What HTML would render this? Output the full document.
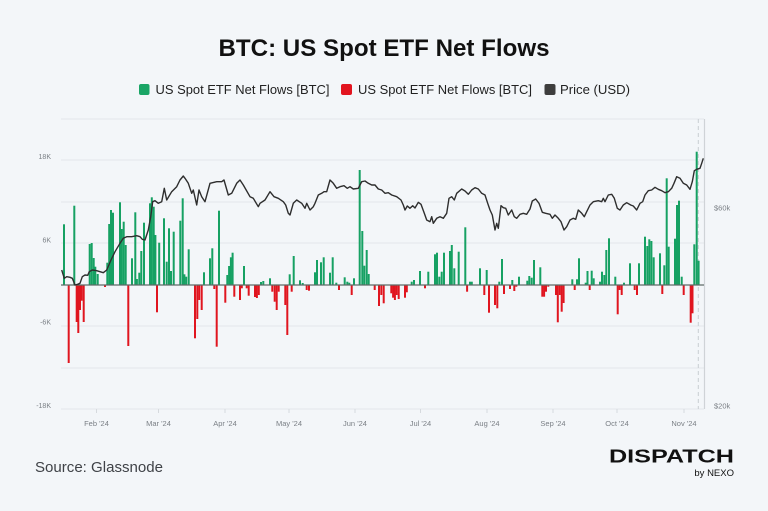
<!DOCTYPE html>
<html><head><meta charset="utf-8"><style>
html,body{margin:0;padding:0;background:#f3f6f9;}
svg{display:block;}
text{font-family:"Liberation Sans",Arial,sans-serif;}
</style></head><body>
<svg width="768" height="511" viewBox="0 0 768 511" xmlns="http://www.w3.org/2000/svg">
<rect width="768" height="511" fill="#f3f6f9"/>
<text x="384" y="56" text-anchor="middle" font-size="24" font-weight="bold" fill="#111" textLength="331" lengthAdjust="spacingAndGlyphs">BTC: US Spot ETF Net Flows</text>
<!-- legend -->
<rect x="139" y="84" width="10.5" height="11" rx="2" fill="#1aa566"/>
<text x="155.5" y="94" font-size="13" fill="#222" textLength="174" lengthAdjust="spacingAndGlyphs">US Spot ETF Net Flows [BTC]</text>
<rect x="341" y="84" width="11" height="11" rx="2" fill="#e2141f"/>
<text x="358" y="94" font-size="13" fill="#222" textLength="174" lengthAdjust="spacingAndGlyphs">US Spot ETF Net Flows [BTC]</text>
<rect x="544.5" y="84" width="11" height="11" rx="2" fill="#3d3d3d"/>
<text x="560" y="94" font-size="13" fill="#222" textLength="70" lengthAdjust="spacingAndGlyphs">Price (USD)</text>
<!-- grid -->
<g stroke="#e3e7eb" stroke-width="1">
<line x1="61" y1="119" x2="704" y2="119"/>
<line x1="61" y1="160" x2="704" y2="160"/>
<line x1="61" y1="202" x2="704" y2="202"/>
<line x1="61" y1="243" x2="704" y2="243"/>
<line x1="61" y1="326" x2="704" y2="326"/>
<line x1="61" y1="368" x2="704" y2="368"/>
<line x1="61" y1="409" x2="704" y2="409"/>
</g>
<g stroke="#d6dade" stroke-width="1">
<line x1="96.5" y1="409" x2="96.5" y2="413"/><line x1="158.5" y1="409" x2="158.5" y2="413"/>
<line x1="225" y1="409" x2="225" y2="413"/><line x1="289" y1="409" x2="289" y2="413"/>
<line x1="355" y1="409" x2="355" y2="413"/><line x1="420.5" y1="409" x2="420.5" y2="413"/>
<line x1="487" y1="409" x2="487" y2="413"/><line x1="553" y1="409" x2="553" y2="413"/>
<line x1="617" y1="409" x2="617" y2="413"/><line x1="684" y1="409" x2="684" y2="413"/>
</g>
<line x1="698.3" y1="119" x2="698.3" y2="409" stroke="#c9ced3" stroke-width="1" stroke-dasharray="4,3"/>
<line x1="704.5" y1="119" x2="704.5" y2="409" stroke="#cfd3d7" stroke-width="1.2"/>
<!-- y labels -->
<g font-size="7" fill="#7a7f85" text-anchor="end">
<text x="51" y="159">18K</text>
<text x="51" y="242.5">6K</text>
<text x="51" y="324.5">-6K</text>
<text x="51" y="408">-18K</text>
</g>
<g font-size="7.5" fill="#7a7f85">
<text x="714" y="210.5">$60k</text>
<text x="714" y="408.5">$20k</text>
</g>
<g font-size="7.5" fill="#7a7f85" text-anchor="middle">
<text x="96.5" y="426">Feb '24</text><text x="158.5" y="426">Mar '24</text>
<text x="225" y="426">Apr '24</text><text x="289" y="426">May '24</text>
<text x="355" y="426">Jun '24</text><text x="420.5" y="426">Jul '24</text>
<text x="487" y="426">Aug '24</text><text x="553" y="426">Sep '24</text>
<text x="617" y="426">Oct '24</text><text x="684" y="426">Nov '24</text>
</g>
<g id="bars"></g>
<line x1="61" y1="285" x2="704" y2="285" stroke="#5e6b68" stroke-width="1.3"/>
<polyline id="price" fill="none" stroke="#2e2e2e" stroke-width="1.4" stroke-linejoin="round" points="61.7,270 64.3,278.3 66.7,276.7 70,277.3 72.3,278.3 75,285 77.7,284.3 80,283.3 82.3,276.7 85,275 87.7,275.3 89.3,271.7 92.3,270 96.7,270.7 100,271.7 103.3,272.7 106.7,270 111,260 115,251.7 120,243.3 123.3,238.3 126.7,236.7 131.7,236.7 136.7,235.7 140,236.7 142.3,239.3 145,240 148.3,230 150.7,216.7 152.7,201.7 155,200.7 158.3,203.3 161.7,201.7 164.3,188.3 166.7,200 171.7,191.7 176.7,186.7 180,180 183.3,176 185,178.3 188.3,183.3 191.7,193.3 193.3,190 196.7,205 199,190 201.7,196.7 205,201.7 210,183.3 216.7,181.7 221.7,181.7 224,180 228.3,195 231.7,193.3 236.7,183.3 240,180 243.3,185 250,196.7 253.3,198.3 258.3,206.7 260,203.3 265,200 270,191.7 274,196.7 278.3,198.3 283.3,201.7 285.7,205 288.3,213.3 290,215 293.3,203.3 296.7,200 301.7,203.3 305,208.3 306.7,203.3 310,210 313.3,206.7 315,203.3 318.3,195 321.7,193.3 324,191.7 326.7,191.7 330,180 333.3,183.3 336.7,188.3 340,186.7 344,185.7 347.3,188.3 350,186.7 353.3,189 358.3,188.3 361.7,181.7 365,181 368.3,183.3 371.7,185 375,185 378.3,189 381.7,190 385,193.3 388.3,192.7 391.7,195 396.7,196.7 401,200 403.3,205 405,210 407.3,206 410,208.3 412.7,205.7 415,208 418.3,202.3 421,204.3 424.3,213.3 426.7,220 430,221.7 431.7,216.7 433.3,223.3 436.7,218.3 440,216.7 443.3,218.3 446.7,213.3 449,198.3 451.7,196.7 454.3,200 456.7,193.3 461.7,189 465,191 468.3,194.3 471.7,190 475,187.7 478.3,189 481.7,193.3 485,195 487.7,203.3 490,210 492.3,215 495,230 496.7,223.3 498.3,228.3 501,205.7 503.3,207.7 505.7,208.3 508.3,215 511.7,210 514.3,216.7 516.7,218.3 520,214.3 523.3,213.3 526.7,214.3 530,209 532.3,201 535.7,199 539,203.3 542.3,212.3 545.7,213.3 550,214.3 552.3,218.3 555,215 558.3,218.3 561,221.7 564,230 566.7,226.7 570,220 573.3,218.3 575.7,219.3 578.3,210 581.7,213.3 584.3,216.7 586.7,211.7 590,205 593.3,201.7 598.3,200.7 601.7,201.7 603.3,198.3 605,201.7 608.3,195 611.7,194.3 614.3,198.3 617.3,208.3 620,210 623.3,205 626.7,202.7 630.7,205 633.3,206 636.7,210 640,203.3 642.7,201.7 645,195 648.3,190.7 651.7,190 655,187.3 658.3,189.3 661.7,190.7 665,192.7 668.3,191.7 671.7,188.3 674,183.3 676.7,176.7 680,178.3 683.3,183.3 686.7,185 690,189.3 692.3,181.7 694.3,170.7 696.7,169.3 700,168.3 701.7,163.3 703.3,158.3"/>
<!-- footer -->
<text x="35" y="472" font-size="15" fill="#3f4247" textLength="128" lengthAdjust="spacingAndGlyphs">Source: Glassnode</text>
<text x="609" y="462.5" font-size="18.5" font-weight="bold" fill="#111" textLength="125" lengthAdjust="spacingAndGlyphs">DISPATCH</text>
<text x="734" y="476" font-size="9.5" fill="#111" text-anchor="end">by NEXO</text>
</svg>
<script>
var d=[[64,224.3],[68.7,363],[74.3,205.7],[76.7,322],[78.3,333],[80,310],[81.7,300.7],[83.7,322],[89.7,244],[91.7,243],[93.7,258],[95.3,266.7],[97.7,274],[105,287],[107.3,262.7],[109.2,224],[111,210],[113,212.7],[120,202.3],[121.8,229],[123.7,221.7],[125.7,245],[128.3,346],[132,258.3],[135.3,212.3],[136.9,279],[139.3,272.7],[141.3,251],[144,222.7],[150,203.3],[151.8,197.3],[153.7,206.7],[155.4,235],[157,312.3],[159.2,242.7],[164,218.3],[166.7,261.7],[169,228.3],[171,271],[173.7,231.7],[180.3,220.7],[182.7,198.3],[184.4,274.3],[186.2,276.7],[188.7,249.3],[195,338.3],[197.3,319],[199.2,300],[201.7,310],[204,272.3],[210,258.3],[212.3,248.3],[214.3,289],[216.7,346.7],[219,210.7],[225.3,302.7],[227.3,275],[229.1,266],[230.9,257.3],[232.6,252.7],[234.3,296.7],[240,300],[241.8,288.3],[244,266],[246.7,288.3],[248.7,295.7],[255,297],[256.9,298],[258.8,295],[261,282],[263.3,281],[270,278.3],[272.3,291.7],[274.7,301.7],[276.7,310],[278.7,291.7],[285.3,305],[287.3,335],[289.7,274.3],[291.7,291.7],[293.7,256],[300,280.3],[302.7,283],[306.7,290],[309,290.7],[315,272.3],[317,260],[321,262.3],[323.7,257.3],[330,272.7],[332.7,257.3],[336.3,282.7],[339,290],[344.7,277.3],[347.3,281.7],[349.3,282.7],[351.7,295],[354,278.3],[359.7,170],[362.3,231],[364.3,265.7],[366.7,250],[368.7,274],[374.7,290],[379,306],[381.3,295],[383.7,303.3],[391.3,293.3],[393.1,297.7],[394.9,300],[396.7,295],[398.7,299],[405,297.7],[406.8,292.3],[411.7,281.7],[414,280],[420,271],[425,288.3],[428.3,271.7],[435,254.3],[437,252.7],[439.3,276.7],[441.7,271.7],[444,252.7],[450,251],[451.8,245],[454.3,268.3],[458.7,251.7],[465.3,227.3],[467.1,291.7],[470,281.7],[471.8,281.7],[480,268.3],[484.3,295],[486.7,270],[489,312.7],[495,305],[497.3,308.3],[499.3,281.7],[502,259],[504,294],[510,289],[512.3,280],[514.3,291],[516.3,286.7],[519,276.7],[527.3,280.7],[529.3,276],[531.7,277.7],[534,260],[540.3,267.3],[542.3,296.7],[544.1,296.7],[546,291.7],[548.3,286.7],[556,295],[557.8,322.3],[559.8,295],[561.7,311.7],[563.6,303],[572.3,279.3],[574.7,290],[577,279.3],[579,258.3],[585.7,282.7],[587.5,271],[589.7,290],[591.7,270.7],[593.7,278.3],[600,281.7],[602,271.7],[604.3,275],[606.3,250],[609,238.3],[615.3,276.7],[617.7,314.3],[619.6,290],[621.7,295],[624,282.7],[630,263.3],[634.7,290],[637,295],[639,263.3],[645,236.7],[647.3,246],[649.3,239.3],[651.4,241],[653.7,257.3],[660,253.3],[662.3,294],[664.3,265.3],[666.7,178.3],[668.7,246.7],[675,238.7],[677,205],[679,200.7],[681.7,276.7],[683.7,295],[690.7,322.7],[692.5,313.3],[694.3,244.3],[696.7,151.7],[698.6,260.7]];
var g=document.getElementById('bars'),ns='http://www.w3.org/2000/svg';
d.forEach(function(b){var x=b[0]-1,v=b[1];var r=document.createElementNS(ns,'rect');r.setAttribute('x',x);r.setAttribute('width',2);if(v<285){r.setAttribute('y',v);r.setAttribute('height',285-v);r.setAttribute('fill','#16a163');}else{r.setAttribute('y',285);r.setAttribute('height',v-285);r.setAttribute('fill','#e0151f');}g.appendChild(r);});
</script>
</body></html>
